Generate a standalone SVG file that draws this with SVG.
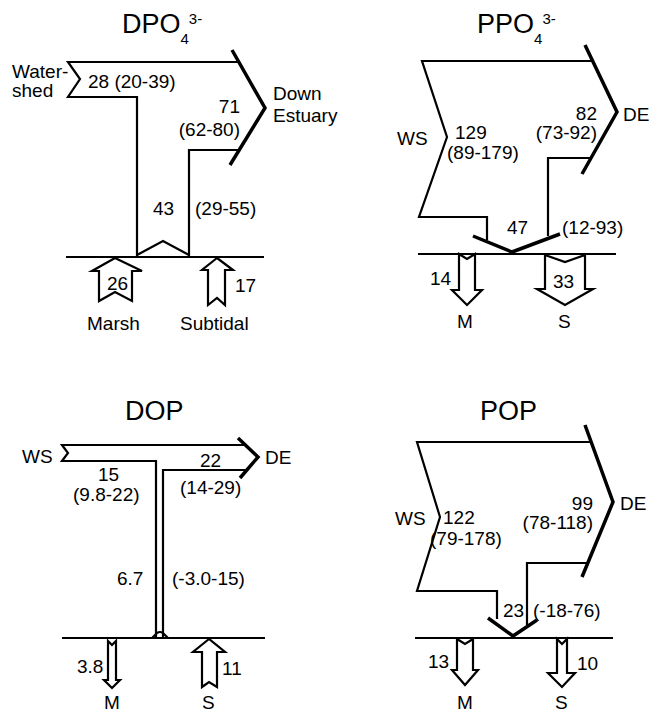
<svg xmlns="http://www.w3.org/2000/svg" width="658" height="714" viewBox="0 0 658 714">
<style>
text{font-family:"Liberation Sans",Arial,sans-serif;font-size:19px;fill:#000}
.t{font-size:27px}
.s{font-size:15px}
.e{text-anchor:end}
.ln{fill:none;stroke:#000;stroke-width:2.2;stroke-linejoin:miter}
.hd{fill:none;stroke:#000;stroke-width:3.5;stroke-linejoin:miter}
.ar{fill:#fff;stroke:#000;stroke-width:2.2;stroke-linejoin:miter}
</style>
<rect width="658" height="714" fill="#fff"/>

<g id="panel-dpo">
  <text class="t" x="122" y="33">DPO<tspan class="s" dy="11">4</tspan><tspan class="s" dy="-20">3-</tspan></text>
  <g id="dpo-flow">
    <path class="ln" d="M238,62 L68,62 L80,79 L68,97 L137,97 L137,257"/>
    <path class="ln" d="M189,257 L189,150 L239,150"/>
    <path class="hd" d="M232,50 L265,108 L230,165"/>
    <path class="ln" d="M137,255 L163,241 L189,255"/>
    <path class="ln" d="M66,257 L264,257"/>
  </g>
  <g id="dpo-connectors">
    <polygon class="ar" points="115,258 92,271 99,271 99,301 115,292 132,301 132,271 142,271"/>
    <polygon class="ar" points="217,258 202,270 208,270 208,305 217,298 225,305 225,270 233,270"/>
  </g>
  <text x="12" y="78">Water-</text>
  <text x="12" y="97">shed</text>
  <text x="88" y="88">28 (20-39)</text>
  <text x="273" y="100">Down</text>
  <text x="273" y="122">Estuary</text>
  <text class="e" x="240" y="113">71</text>
  <text class="e" x="240" y="136">(62-80)</text>
  <text x="153" y="215">43</text>
  <text x="195" y="215">(29-55)</text>
  <text x="107" y="290">26</text>
  <text x="235" y="292">17</text>
  <text x="87" y="330">Marsh</text>
  <text x="180" y="330">Subtidal</text>
</g>

<g id="panel-ppo">
  <text class="t" x="477" y="33">PPO<tspan class="s" dy="11">4</tspan><tspan class="s" dy="-20">3-</tspan></text>
  <g id="ppo-flow">
    <path class="ln" d="M592,61 L422,61 L447,137 L419,217 L487,217 L487,240"/>
    <path class="ln" d="M548,236 L548,158 L591,158"/>
    <path class="hd" d="M585,45 L617,112 L582,174"/>
    <path class="hd" d="M473,236 L512,252 L560,234"/>
    <path class="ln" d="M418,254 L616,254"/>
  </g>
  <g id="ppo-connectors">
    <polygon class="ar" points="459,254 467,259 475,254 475,290 482,290 467,305 452,290 459,290"/>
    <polygon class="ar" points="545,255 565,262 585,255 585,289 593,289 565,305 537,289 545,289"/>
  </g>
  <text x="397" y="145">WS</text>
  <text x="455" y="139">129</text>
  <text x="447" y="159">(89-179)</text>
  <text class="e" x="597" y="120">82</text>
  <text class="e" x="597" y="139">(73-92)</text>
  <text x="623" y="121">DE</text>
  <text x="507" y="234">47</text>
  <text x="562" y="234">(12-93)</text>
  <text x="430" y="285">14</text>
  <text x="553" y="288">33</text>
  <text x="457" y="328">M</text>
  <text x="558" y="328">S</text>
</g>

<g id="panel-dop">
  <text class="t" x="125" y="420">DOP</text>
  <g id="dop-flow">
    <path class="ln" d="M245,445 L62,445 L68,453 L62,461 L156,461 L156,638"/>
    <path class="ln" d="M163,638 L163,470 L247,470"/>
    <path class="hd" d="M238,438 L258,457 L240,478"/>
    <path class="ln" d="M152,638 L157,633 Q160,631 163,633 L168,638"/>
    <path class="ln" d="M62,638 L265,638"/>
  </g>
  <g id="dop-connectors">
    <polygon class="ar" points="108,641 112,645 116,641 116,680 120,680 112,688 104,680 108,680"/>
    <polygon class="ar" points="209,639 193,652 202,652 202,687 209,682 217,687 217,652 225,652"/>
  </g>
  <text x="22" y="463">WS</text>
  <text x="265" y="464">DE</text>
  <text x="98" y="481">15</text>
  <text x="73" y="501">(9.8-22)</text>
  <text x="200" y="467">22</text>
  <text x="180" y="494">(14-29)</text>
  <text x="117" y="585">6.7</text>
  <text x="172" y="585">(-3.0-15)</text>
  <text x="77" y="673">3.8</text>
  <text x="222" y="675">11</text>
  <text x="104" y="709">M</text>
  <text x="202" y="709">S</text>
</g>

<g id="panel-pop">
  <text class="t" x="480" y="420">POP</text>
  <g id="pop-flow">
    <path class="ln" d="M591,442 L417,442 L440,517 L417,591 L497,591 L497,619"/>
    <path class="ln" d="M527,625 L527,563 L588,563"/>
    <path class="hd" d="M585,425 L613,502 L582,577"/>
    <path class="hd" d="M488,618 L513,636 L537,620"/>
    <path class="ln" d="M415,638 L613,638"/>
  </g>
  <g id="pop-connectors">
    <polygon class="ar" points="457,639 465,644 473,639 473,670 478,670 465,685 452,670 457,670"/>
    <polygon class="ar" points="557,639 562,644 567,639 567,673 575,673 562,687 548,673 557,673"/>
  </g>
  <text x="395" y="525">WS</text>
  <text x="443" y="524">122</text>
  <text x="430" y="545">(79-178)</text>
  <text class="e" x="593" y="510">99</text>
  <text class="e" x="593" y="529">(78-118)</text>
  <text x="620" y="510">DE</text>
  <text x="503" y="617">23</text>
  <text x="533" y="617">(-18-76)</text>
  <text x="428" y="668">13</text>
  <text x="577" y="670">10</text>
  <text x="457" y="709">M</text>
  <text x="555" y="709">S</text>
</g>
</svg>
